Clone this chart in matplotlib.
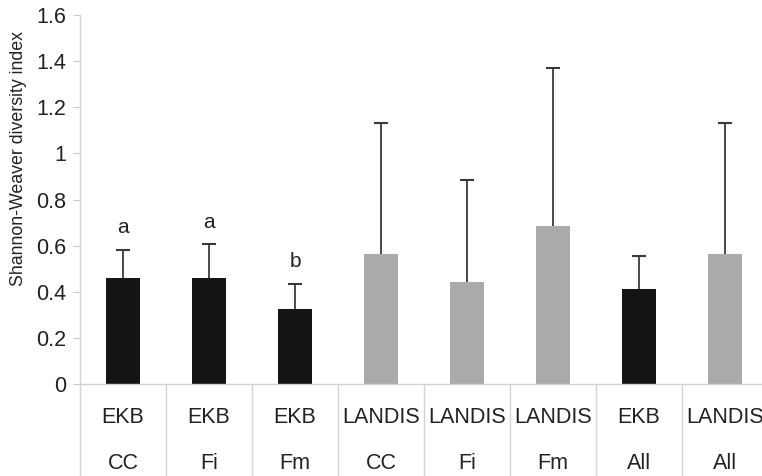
import matplotlib.pyplot as plt
import numpy as np

plt.rcParams['font.family'] = ['Liberation Sans', 'DejaVu Sans']

models = ['EKB', 'EKB', 'EKB', 'LANDIS', 'LANDIS', 'LANDIS', 'EKB', 'LANDIS']
groups = ['CC', 'Fi', 'Fm', 'CC', 'Fi', 'Fm', 'All', 'All']
means = [0.46, 0.46, 0.325, 0.565, 0.443, 0.687, 0.413, 0.565]
upper = [0.583, 0.607, 0.435, 1.13, 0.885, 1.37, 0.553, 1.13]
letters = ['a', 'a', 'b', '', '', '', '', '']

colors = ['#141414' if m == 'EKB' else '#a9aaa9' for m in models]
err = np.array(upper) - np.array(means)
x = np.arange(len(models)) + 0.5

fig = plt.figure(figsize=(7.62, 4.76), dpi=100)
ax = fig.add_axes([80/762, 92/476, 688/762, 369/476])

ax.bar(x, means, width=0.4, color=colors, zorder=2)
# upper-only whiskers, cap only at the top
ax.errorbar(x, means, yerr=[np.zeros(len(err)), err], fmt='none',
            ecolor='#3a3a3a', elinewidth=1.3, capsize=0, zorder=3)
ax.scatter(x, upper, marker='_', s=110, color='#3a3a3a', linewidths=1.5, zorder=3)

for xi, top, lab in zip(x, upper, letters):
    if lab:
        ax.annotate(lab, (xi, top), xytext=(0, 9), textcoords='offset points',
                    ha='center', va='bottom', fontsize=15, color='#222222')

ax.set_xlim(0, len(models))
ax.set_ylim(0, 1.6)
ax.set_yticks(np.arange(0, 1.61, 0.2))
ax.set_yticklabels(['0', '0.2', '0.4', '0.6', '0.8', '1', '1.2', '1.4', '1.6'])
ax.set_xticks([])
ax.tick_params(axis='y', length=5, color='#cccccc', labelsize=15.5,
               labelcolor='#222222', pad=5)
ax.set_ylabel('Shannon-Weaver diversity index', fontsize=12.8, color='#222222')
ax.yaxis.set_label_coords(-0.077, 0.61)

for s in ['top', 'right']:
    ax.spines[s].set_visible(False)
for s in ['left', 'bottom']:
    ax.spines[s].set_color('#d4d4d4')
    ax.spines[s].set_linewidth(1)

# category separators below the axis
trans = ax.get_xaxis_transform()
for i in range(len(models) + 1):
    ax.plot([i, i], [0, -0.3], transform=trans, color='#d4d4d4', lw=1, clip_on=False)

for xi, m, g in zip(x, models, groups):
    ax.text(xi, -0.09, m, transform=trans, ha='center', va='center', fontsize=15.5, color='#222222')
    ax.text(xi, -0.215, g, transform=trans, ha='center', va='center', fontsize=15.5, color='#222222')

fig.savefig('out.png', dpi=100)
